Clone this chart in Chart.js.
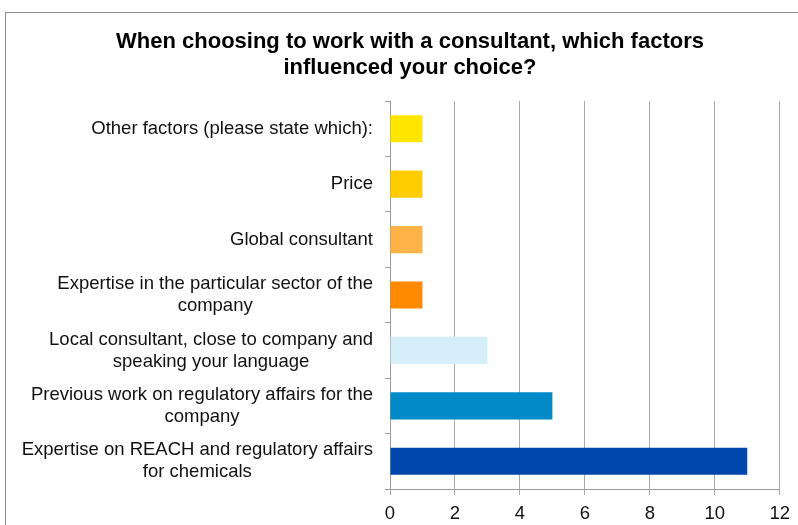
<!DOCTYPE html>
<html>
<head>
<meta charset="utf-8">
<script src="https://cdn.jsdelivr.net/npm/chart.js@4.4.1/dist/chart.umd.min.js"></script>
<style>
  html, body { margin: 0; padding: 0; background: #fff; overflow: hidden; }
  #wrap { position: relative; width: 798px; height: 525px; }
</style>
</head>
<body>
<div id="wrap"><canvas id="c" width="798" height="525"></canvas></div>
<script>
const titleLines = ["When choosing to work with a consultant, which factors", "influenced your choice?"];
const categories = [
  ["Other factors (please state which):"],
  ["Price"],
  ["Global consultant"],
  ["Expertise in the particular sector of the", "company"],
  ["Local consultant, close to company and", "speaking your language"],
  ["Previous work on regulatory affairs for the", "company"],
  ["Expertise on REACH and regulatory affairs", "for chemicals"]
];
const values = [1, 1, 1, 1, 3, 5, 11];
const barColors = ["#FFE600", "#FFCC00", "#FFB347", "#FF8A00", "#D6EEFA", "#008AC8", "#0046AD"];
const xTicks = [0, 2, 4, 6, 8, 10, 12];

const FONT = "'Liberation Sans', Arial, sans-serif";

const framePlugin = {
  id: 'frame',
  beforeDraw(chart) {
    const ctx = chart.ctx;
    ctx.save();
    ctx.fillStyle = '#fff';
    ctx.fillRect(0, 0, chart.width, chart.height);
    ctx.strokeStyle = '#8c8c8c';
    ctx.lineWidth = 1;
    ctx.strokeRect(5.5, 12.5, 1000, 1000);
    ctx.restore();
  },
  afterDraw(chart) {
    const ctx = chart.ctx;
    ctx.save();
    ctx.fillStyle = '#000';
    ctx.font = "bold 22px " + FONT;
    ctx.textAlign = 'center';
    ctx.textBaseline = 'middle';
    ctx.fillText(titleLines[0], 410, 42);
    ctx.fillText(titleLines[1], 410, 68);
    // category labels: block right-aligned, lines centered within block
    const y = chart.scales.y;
    ctx.font = "18.5px " + FONT;
    ctx.fillStyle = '#111';
    const right = 373;
    const lh = 22;
    categories.forEach((lines, i) => {
      const cy = y.getPixelForTick(i);
      let maxW = 0;
      lines.forEach(l => { maxW = Math.max(maxW, ctx.measureText(l).width); });
      const cx = right - maxW / 2;
      const startY = cy - (lines.length - 1) * lh / 2;
      lines.forEach((l, k) => ctx.fillText(l, cx, startY + k * lh));
    });
    ctx.restore();
  }
};

new Chart(document.getElementById('c'), {
  type: 'bar',
  data: {
    labels: categories,
    datasets: [{
      data: values,
      backgroundColor: barColors,
      borderWidth: 0,
      barPercentage: 0.49,
      categoryPercentage: 1
    }]
  },
  options: {
    indexAxis: 'y',
    responsive: false,
    animation: false,
    layout: { padding: { top: 101, left: 0, right: 18, bottom: 0 } },
    plugins: { legend: { display: false }, title: { display: false }, tooltip: { enabled: false } },
    scales: {
      x: {
        min: 0, max: 12,
        afterBuildTicks(scale) { scale.ticks = xTicks.map(v => ({ value: v })); },
        afterFit(scale) { scale.height = 36; },
        grid: { color: '#aaaaaa', lineWidth: 1, tickLength: 6, drawTicks: true },
        border: { display: true, color: '#9a9a9a' },
        ticks: { color: '#111', font: { family: FONT, size: 18.5 }, padding: 8, maxRotation: 0 }
      },
      y: {
        afterFit(scale) { scale.width = 390; },
        grid: { display: true, drawOnChartArea: false, offset: true, tickLength: 5, color: '#9a9a9a' },
        border: { display: true, color: '#9a9a9a' },
        ticks: { color: 'rgba(0,0,0,0)', font: { family: FONT, size: 18 }, padding: 10 }
      }
    }
  },
  plugins: [framePlugin]
});
</script>
</body>
</html>
